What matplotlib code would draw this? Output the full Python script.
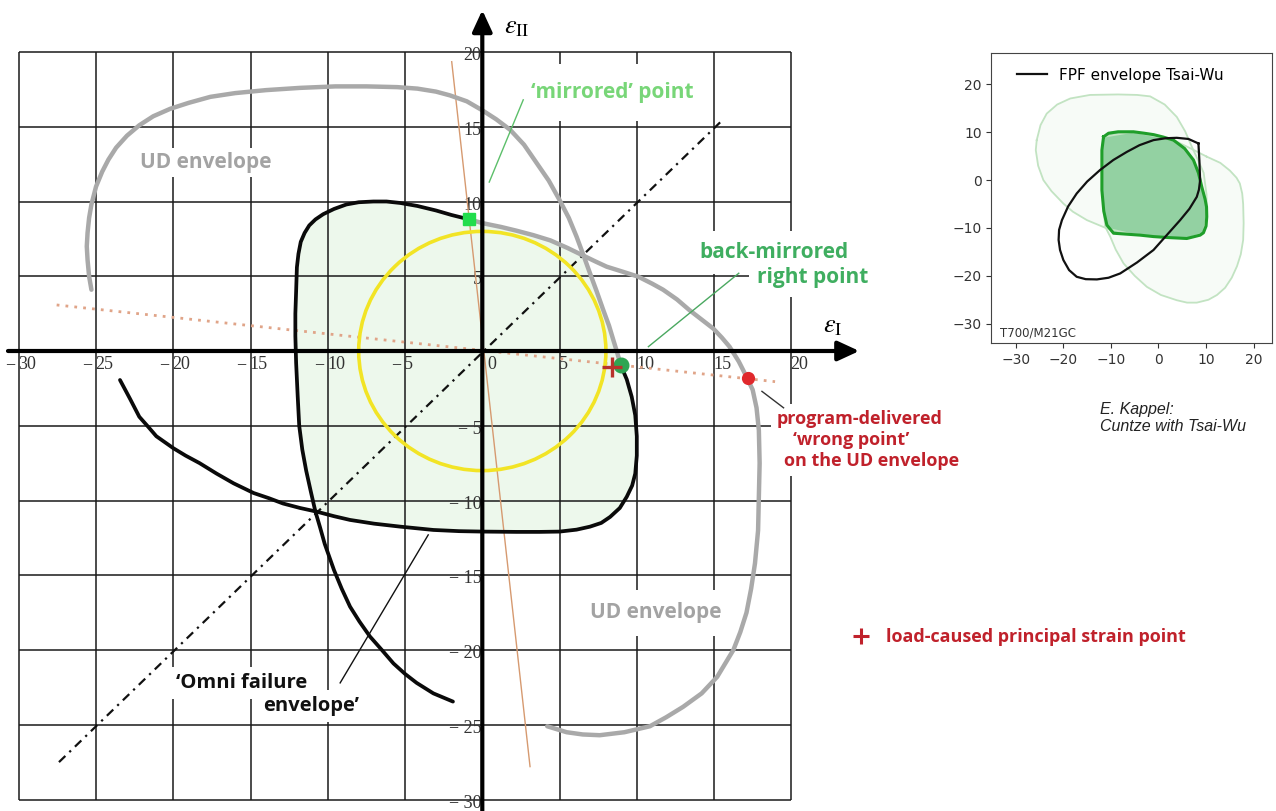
import matplotlib.pyplot as plt
import matplotlib.patches as mpatches
from matplotlib.lines import Line2D

plt.rcParams['mathtext.fontset'] = 'stix'

# ---------------- data (principal strains) ----------------
grid_ticks = [-30, -25, -20, -15, -10, -5, 0, 5, 10, 15, 20]

# UD envelope, upper-left branch (grey)
ud_upper_x = [-25.3, -25.45, -25.55, -25.6, -25.55, -25.45, -25.3, -25.0, -24.6, -24.2, -23.7,
              -23.0, -22.2, -21.3, -20.2, -19.0, -17.6, -16.0, -14.0, -11.8, -9.5, -7.5, -5.5,
              -4.2, -3.0, -2.1, -1.0, 0.0, 0.9, 1.8, 2.7, 3.5, 4.3, 5.0, 5.6, 6.1, 6.55, 6.97,
              7.4, 7.83, 8.2, 8.48, 8.7, 8.96]
ud_upper_y = [4.1, 5.0, 6.1, 7.0, 7.9, 8.9, 9.8, 11.0, 12.0, 12.8, 13.6,
              14.4, 15.1, 15.7, 16.2, 16.6, 17.0, 17.25, 17.45, 17.6, 17.7, 17.7, 17.65,
              17.55, 17.35, 17.1, 16.7, 16.1, 15.5, 14.8, 13.8, 12.6, 11.4, 10.1, 8.9, 7.65, 6.4,
              5.2, 4.0, 2.74, 1.7, 0.74, 0.0, -0.94]
# UD envelope, lower-right branch (grey)
ud_lower_x = [-0.84, 0.07, 1.2, 2.2, 3.3, 4.4, 5.5, 6.5, 7.3, 8.05, 9.1, 10.1, 11.0, 11.7,
              12.6, 13.4, 14.2, 14.95, 15.5, 16.0, 16.6, 17.1, 17.5, 17.75, 17.9, 17.95, 17.9,
              17.85, 17.65, 17.4, 17.1, 16.7, 16.25, 15.2, 14.2, 13.0, 11.9, 10.85, 9.2, 7.6,
              6.5, 5.46, 4.2]
ud_lower_y = [8.8, 8.54, 8.3, 8.05, 7.75, 7.4, 6.9, 6.4, 6.0, 5.64, 5.3, 4.97, 4.5, 4.1,
              3.45, 2.74, 2.1, 1.5, 0.9, 0.29, -0.7, -1.72, -2.6, -3.8, -5.3, -7.5, -9.75,
              -12.0, -14.2, -15.9, -17.5, -18.8, -20.0, -21.8, -22.9, -23.8, -24.5, -25.1, -25.5,
              -25.7, -25.65, -25.5, -25.1]

# 'Omni failure envelope' branches (black)
omni_a_x = [-0.84, -2.0, -3.0, -4.2, -5.3, -6.2, -7.05, -8.0, -8.8, -9.6, -10.3, -10.8, -11.2,
            -11.5, -11.75, -11.9, -12.0, -12.05, -12.1, -12.1, -12.05, -11.95, -11.85, -11.65,
            -11.4, -11.1, -10.8, -10.5, -10.2, -9.6, -9.1, -8.56, -7.95, -7.27, -6.5, -5.75,
            -5.0, -4.25, -3.17, -1.9]
omni_a_y = [8.8, 9.1, 9.4, 9.7, 9.9, 10.0, 10.0, 9.95, 9.8, 9.5, 9.15, 8.8, 8.4,
            7.9, 7.3, 6.5, 5.6, 4.0, 2.5, 1.0, -0.8, -3.0, -5.0, -6.6,
            -8.0, -9.4, -10.75, -11.8, -12.9, -14.65, -15.9, -17.1, -18.1, -19.1, -20.0, -20.9,
            -21.6, -22.2, -22.9, -23.45]
omni_b_x = [-23.45, -22.8, -22.2, -21.6, -21.1, -20.0, -19.2, -18.3, -17.2, -16.1, -14.8,
            -13.8, -12.9, -11.8, -10.7, -9.6, -8.56, -7.0, -5.3, -3.17, -1.5, 0.07, 2.2, 3.7,
            5.0, 6.1, 6.97, 7.7, 8.27, 8.9, 9.35, 9.7, 9.9, 10.0, 10.0, 9.9, 9.67, 9.35, 8.96]
omni_b_y = [-1.94, -3.2, -4.4, -5.1, -5.7, -6.5, -7.0, -7.5, -8.2, -8.85, -9.5,
            -9.85, -10.2, -10.5, -10.75, -11.05, -11.3, -11.55, -11.75, -11.97, -12.05, -12.08,
            -12.1, -12.1, -12.08, -11.95, -11.75, -11.5, -11.1, -10.5, -9.75, -9.0, -8.2, -7.0,
            -5.7, -4.3, -3.06, -1.9, -0.94]

circle_radius = 8
diag_x, diag_y = [-27.4, 15.5], [-27.5, 15.4]
steep_x, steep_y = [-1.98, 3.09], [19.35, -27.8]
load_path_x, load_path_y = [-27.55, 18.95], [3.08, -2.05]

mirrored_pt = (-0.84, 8.8)
back_mirrored_pt = (8.96, -0.94)
load_pt = (8.37, -1.05)
wrong_pt = (17.2, -1.83)

lead_mirrored_x, lead_mirrored_y = [2.65, 0.45], [16.8, 11.3]
lead_back_x, lead_back_y = [16.6, 10.75], [5.2, 0.29]
lead_omni_x, lead_omni_y = [-3.5, -9.2], [-12.3, -22.2]
lead_wrong_x, lead_wrong_y = [18.1, 19.5], [-2.7, -3.8]

# inset (E. Kappel)
ins_ticks = [-30, -20, -10, 0, 10, 20]
tw_x = [8.4, 8.6, 8.75, 8.5, 8.05, 6.5, 4.55, 2.0, -1.05, -4.5, -8.05, -10.5, -12.95, -15.3,
        -17.2, -18.8, -20.0, -20.7, -21.0, -20.9, -20.3, -19.0, -17.2, -15.0, -12.3, -9.5,
        -6.65, -4.0, -1.05, 1.5, 3.85, 6.3, 8.4]
tw_y = [7.66, 4.0, 0.0, -2.0, -3.5, -6.0, -8.36, -11.2, -14.6, -17.2, -19.5, -20.4, -20.75,
        -20.7, -20.2, -18.8, -16.7, -14.6, -12.5, -10.4, -8.36, -5.5, -2.8, -0.3, 2.1, 4.2,
        5.9, 7.3, 8.36, 8.75, 8.84, 8.6, 7.66]
ins_omni_x = [-11.55, -10.5, -8.5, -5.25, -3.0, -1.0, 1.0, 3.15, 5.5, 7.35, 8.4, 9.1, 9.8,
              10.1, 10.15, 10.0, 9.45, 8.75, 5.95, 2.0, -1.05, -3.85, -9.45, -10.85, -11.5,
              -11.9, -11.9, -11.9, -11.55]
ins_omni_y = [9.05, 9.8, 10.1, 10.1, 9.8, 9.5, 9.0, 8.36, 6.6, 4.2, 1.5, -1.4, -4.0,
              -5.6, -7.66, -9.6, -11.0, -11.5, -12.2, -12.0, -11.8, -11.5, -11.1, -9.4, -6.5,
              -2.1, 3.0, 6.27, 9.05]
ins_ud_a_x = [-25.6, -24.8, -23.5, -21.3, -18.55, -14.4, -8.5, -4.5, -1.75, 1.3, 3.85, 5.6,
              7.0, 8.4, 9.5, 10.1, 10.15, 9.45, 5.95, -1.05, -6.0, -10.85, -15.05, -18.0,
              -20.0, -22.5, -24.2, -25.3, -25.8, -25.6]
ins_ud_a_y = [8.36, 11.5, 13.9, 15.8, 17.06, 17.8, 17.9, 17.8, 17.5, 15.8, 13.2, 10.2,
              7.0, 4.0, 1.5, -3.0, -7.66, -11.1, -12.2, -11.8, -11.2, -10.1, -8.36, -6.6,
              -4.9, -2.3, 0.0, 3.0, 6.27, 8.36]
ins_ud_b_x = [10.15, 13.0, 15.0, 16.4, 17.1, 17.6, 17.8, 17.9, 17.8, 17.3, 16.5, 15.4, 14.0,
              12.3, 10.5, 8.06, 6.0, 3.85, 0.5, -2.45, -5.0, -7.35, -9.0, -10.15, -11.2,
              -11.9, -11.9, -11.55, -5.25, 3.15, 7.0, 10.15]
ins_ud_b_y = [4.9, 3.6, 2.0, 0.5, -0.7, -2.8, -5.0, -9.0, -12.5, -15.5, -18.0, -20.4, -22.5,
              -24.0, -25.0, -25.6, -25.6, -25.1, -24.0, -22.3, -20.0, -17.4, -14.5, -11.8,
              -9.75, -2.1, 6.27, 9.05, 10.1, 8.36, 6.5, 4.9]

# ---------------- figure ----------------
W, H = 1276, 811
fig = plt.figure(figsize=(W / 100, H / 100), dpi=100)

# pixel placement of the hand-drawn diagram
X0, SX = 482.3, 15.45
Y0, SY = 351.0, 14.95
xlim = (-31.2, 25.5)
ylim = (-30.75, 23.45)
px_l, px_r = X0 + xlim[0] * SX, X0 + xlim[1] * SX
px_t, px_b = Y0 - ylim[1] * SY, Y0 - ylim[0] * SY
ax = fig.add_axes([px_l / W, 1 - px_b / H, (px_r - px_l) / W, (px_b - px_t) / H])
ax.set_xlim(xlim)
ax.set_ylim(ylim)
ax.axis('off')

# safe region = inside both branches of the omni envelope
# (pieces of the curves between their crossing points)
fill_x = ud_lower_x[:8] + ud_upper_x[36:] + omni_b_x[14:][::-1] + omni_a_x[:27][::-1]
fill_y = ud_lower_y[:8] + ud_upper_y[36:] + omni_b_y[14:][::-1] + omni_a_y[:27][::-1]
ax.fill(fill_x, fill_y, color='#edf8ec', lw=0, zorder=0)

lo, hi = grid_ticks[0], grid_ticks[-1]
ax.vlines(grid_ticks, lo, hi, color='#1a1a1a', lw=1.1, zorder=1)
ax.hlines(grid_ticks, lo, hi, color='#1a1a1a', lw=1.1, zorder=1)

# tick labels (serif, like the original CAS output)
tick_font = dict(family='Liberation Serif', fontsize=13, color='#333333', zorder=2)
for t in grid_ticks:
    if t == 0:
        ax.text(0.3, -0.35, '0', ha='left', va='top', **tick_font)
        continue
    ax.text(t - 0.05, -0.35, str(abs(t)), ha='left', va='top', **tick_font)
    if t < 0:
        ax.text(t - 0.25, -0.35, '\u2212', ha='right', va='top', **tick_font)
    ylab = str(t) if t > 0 else '\u2212 ' + str(-t)
    ax.text(-0.05, t - 0.25, ylab, ha='right', va='center', **tick_font)

ax.text(2.25, 21.7, r'$\varepsilon_{\mathrm{II}}$', fontsize=19, ha='center', va='center')
ax.text(22.7, 1.74, r'$\varepsilon_{\mathrm{I}}$', fontsize=19, ha='center', va='center')

# helper lines
ax.plot(steep_x, steep_y, color='#d69a70', lw=1.0, zorder=3)
ax.plot(load_path_x, load_path_y, color='#e0a488', lw=2.0, ls=(0, (1, 2.2)), zorder=3)
ax.plot(diag_x, diag_y, color='#111111', lw=1.6, ls=(0, (4, 2.5, 1, 2.5)), zorder=3)

# envelopes
curve = dict(solid_capstyle='round', solid_joinstyle='round')
ax.plot(ud_upper_x, ud_upper_y, color='#a9a9a9', lw=3.2, zorder=4, **curve)
ax.plot(ud_lower_x, ud_lower_y, color='#a9a9a9', lw=3.2, zorder=4, **curve)
ax.add_patch(mpatches.Circle((0, 0), circle_radius, fill=False, ec='#f2e425', lw=2.6, zorder=4))
ax.plot(omni_a_x, omni_a_y, color='#0a0a0a', lw=2.7, zorder=5, **curve)
ax.plot(omni_b_x, omni_b_y, color='#0a0a0a', lw=2.7, zorder=5, **curve)

# axes with arrows
arrow = dict(arrowstyle='-|>,head_length=0.65,head_width=0.3', color='k', lw=3,
             mutation_scale=20, shrinkA=0, shrinkB=0)
ax.annotate('', xy=(24.4, 0), xytext=(-30.7, 0), arrowprops=arrow, zorder=6)
ax.annotate('', xy=(0, 22.8), xytext=(0, ylim[0]), arrowprops=arrow, zorder=6)

# leader lines
ax.plot(lead_mirrored_x, lead_mirrored_y, color='#5cbf6a', lw=1.0, zorder=6)
ax.plot(lead_back_x, lead_back_y, color='#4aa860', lw=1.0, zorder=6)
ax.plot(lead_omni_x, lead_omni_y, color='#111111', lw=1.0, zorder=6)
ax.plot(lead_wrong_x, lead_wrong_y, color='#333333', lw=1.0, zorder=6)

# points
ax.plot(*mirrored_pt, marker='s', ms=8.5, color='#22dd4d', ls='none', zorder=7)
ax.plot(*back_mirrored_pt, marker='o', ms=10.5, color='#2ea552', ls='none', zorder=7)
ax.plot(*load_pt, marker='+', ms=15, mew=2.4, color='#b8322c', ls='none', zorder=7)
ax.plot(*wrong_pt, marker='o', ms=8.5, color='#e0282c', ls='none', zorder=7)

# annotations: white patch first (hides the grid), then the text on top
sans = ['Open Sans', 'DejaVu Sans']


def note(x, y, s, color, size, pad):
    style = dict(fontsize=size, fontweight='bold', family=sans, ha='center', va='center')
    ax.text(x, y, s, color='none', zorder=1.5,
            bbox=dict(facecolor='white', edgecolor='none', pad=pad), **style)
    ax.text(x, y, s, color=color, zorder=2.5, **style)


note(-17.9, 12.6, 'UD envelope', '#a3a3a3', 15, 3)
note(11.2, -17.5, 'UD envelope', '#a3a3a3', 15, 9)
note(8.4, 17.3, '\u2018mirrored\u2019 point', '#78d678', 15, 13)
note(18.85, 6.6, 'back-mirrored', '#3fae60', 15, 8)
note(21.4, 4.9, 'right point', '#3fae60', 15, 6)
red = '#c0212b'
note(24.4, -4.55, 'program-delivered', red, 13, 4)
note(23.9, -5.95, '\u2018wrong point\u2019', red, 13, 4)
note(25.2, -7.36, 'on the UD envelope', red, 13, 4)
note(-15.6, -22.2, '\u2018Omni failure', '#111111', 14.5, 4)
note(-11.05, -23.75, 'envelope\u2019', '#111111', 14.5, 4)

leg = ax.legend(handles=[Line2D([], [], ls='none', marker='+', ms=11, mew=2.2, color=red)],
                labels=['load-caused principal strain point'], loc='center left',
                bbox_to_anchor=(852 / W, 1 - 637 / H), bbox_transform=fig.transFigure,
                frameon=False, handlelength=1.0, handletextpad=0.9, borderpad=0,
                borderaxespad=0, prop=dict(family=sans, weight='bold', size=13))
for txt in leg.get_texts():
    txt.set_color(red)

# ---------------- inset ----------------
ins = fig.add_axes([991.3 / W, 1 - 343.3 / H, 280.4 / W, 290 / H])
ins.set_xlim(-35.15, 23.8)
ins.set_ylim(-34.1, 26.5)
ins.fill(ins_ud_a_x, ins_ud_a_y, color='#eaf6ea', alpha=0.35, lw=0)
ins.fill(ins_ud_b_x, ins_ud_b_y, color='#eaf6ea', alpha=0.35, lw=0)
ins.plot(ins_ud_a_x, ins_ud_a_y, color='#c2e3c2', lw=1.3)
ins.plot(ins_ud_b_x, ins_ud_b_y, color='#c2e3c2', lw=1.3)
ins.fill(ins_omni_x, ins_omni_y, color='#93d1a2', lw=0)
ins.plot(ins_omni_x, ins_omni_y, color='#1f9e2a', lw=2.2, solid_joinstyle='round')
ins.plot(tw_x, tw_y, color='#111111', lw=1.6, label='FPF envelope Tsai-Wu')
ins.legend(loc='upper left', bbox_to_anchor=(0.09, 0.95), frameon=False, fontsize=11,
           handlelength=2.0, handletextpad=0.8, borderpad=0, borderaxespad=0)
ins.set_xticks(ins_ticks)
ins.set_yticks(ins_ticks)
ins.tick_params(labelsize=10, colors='#333333', length=3.5)
for sp in ins.spines.values():
    sp.set_color('#444444')
ins.text(-33.3, -31.9, 'T700/M21GC', fontsize=8.5, color='#333333', ha='left', va='center')

fig.text(1100 / W, 1 - 402 / H, 'E. Kappel:\nCuntze with Tsai-Wu', family='Liberation Sans',
         style='italic', fontsize=11.5, color='#222222', ha='left', va='top', linespacing=1.2)

fig.savefig('out.png', dpi=100, facecolor='white')
